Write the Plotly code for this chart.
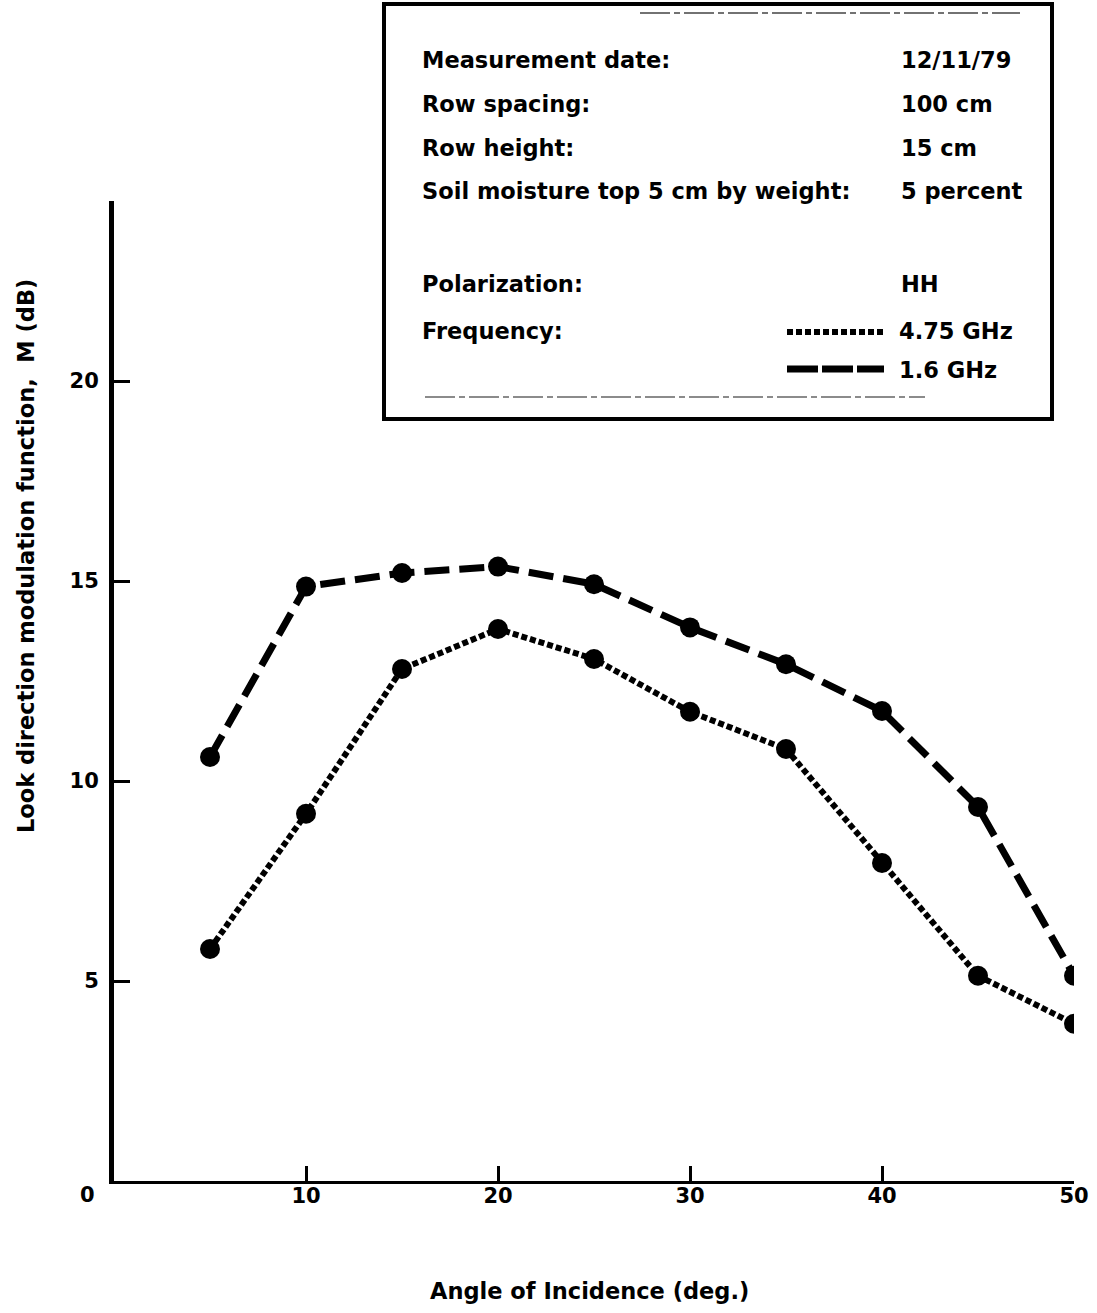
import plotly.graph_objects as go

# Angle of incidence (deg.)
angles = [5, 10, 15, 20, 25, 30, 35, 40, 45, 50]

# Look direction modulation function M (dB), HH polarization
m_475_ghz = [5.8, 9.18, 12.8, 13.8, 13.05, 11.73, 10.8, 7.95, 5.13, 3.93]
m_16_ghz = [10.6, 14.86, 15.2, 15.36, 14.92, 13.84, 12.92, 11.75, 9.35, 5.13]

x_ticks = [10, 20, 30, 40, 50]
y_ticks = [5, 10, 15, 20]

info_labels = ["Measurement date:", "Row spacing:", "Row height:",
               "Soil moisture top 5 cm by weight:", "Polarization:", "Frequency:"]
info_values = ["12/11/79", "100 cm", "15 cm", "5 percent", "HH"]
freq_labels = ["4.75 GHz", "1.6 GHz"]

W, H = 1097, 1313
ML, MR, MT, MB = 114, 23, 201, 132
PW, PH = W - ML - MR, H - MT - MB


def px(xp):
    return (xp - ML) / PW


def py(yp):
    return (H - MB - yp) / PH


FONT = "DejaVu Sans"
BLACK = "#000000"
DOT_DASH = "6px,3px"
LONG_DASH = "25px,10px"

fig = go.Figure()

fig.add_trace(go.Scatter(
    x=angles, y=m_475_ghz, mode="lines+markers", name=freq_labels[0],
    line=dict(color=BLACK, width=6, dash=DOT_DASH),
    marker=dict(color=BLACK, size=20, symbol="circle"),
))
fig.add_trace(go.Scatter(
    x=angles, y=m_16_ghz, mode="lines+markers", name=freq_labels[1],
    line=dict(color=BLACK, width=7, dash=LONG_DASH),
    marker=dict(color=BLACK, size=20, symbol="circle"),
))

tick_font = dict(family=FONT, size=21, color=BLACK, weight="bold")

fig.update_xaxes(
    range=[0, 50], tickvals=x_ticks, ticktext=[str(v) for v in x_ticks],
    ticks="inside", ticklen=15, tickwidth=3, tickcolor=BLACK,
    showline=True, linecolor=BLACK, linewidth=3, showgrid=False,
    zeroline=False, tickfont=tick_font, ticklabelstandoff=-6,
    automargin=False,
)
fig.update_yaxes(
    range=[0, 24.5], tickvals=y_ticks, ticktext=[str(v) for v in y_ticks],
    ticks="inside", ticklen=16, tickwidth=3, tickcolor=BLACK,
    showline=True, linecolor=BLACK, linewidth=5, showgrid=False,
    zeroline=False, tickfont=tick_font, ticklabelstandoff=6,
    automargin=False,
)

annotations = []
# Origin label
annotations.append(dict(x=0, y=0, xref="x", yref="y", text="0", showarrow=False,
                        xanchor="center", yanchor="middle", xshift=-27, yshift=-14,
                        font=tick_font))
# Axis titles
title_font = dict(family=FONT, size=22.5, color=BLACK, weight="bold")
annotations.append(dict(x=px(589), y=py(1291), xref="paper", yref="paper",
                        text="Angle of Incidence (deg.)", showarrow=False,
                        xanchor="center", yanchor="middle", font=title_font))
annotations.append(dict(x=px(26), y=py(556), xref="paper", yref="paper",
                        text="Look direction modulation function,  M (dB)", showarrow=False,
                        textangle=-90, xanchor="center", yanchor="middle", font=title_font))

# Information box contents
box_font = dict(family=FONT, size=22.5, color=BLACK, weight="bold")
label_rows = [60, 104, 148, 191, 284, 331]
for txt, yy in zip(info_labels, label_rows):
    annotations.append(dict(x=px(420), y=py(yy), xref="paper", yref="paper", text=txt,
                            showarrow=False, xanchor="left", yanchor="middle", font=box_font))
for txt, yy in zip(info_values, label_rows[:5]):
    annotations.append(dict(x=px(899), y=py(yy), xref="paper", yref="paper", text=txt,
                            showarrow=False, xanchor="left", yanchor="middle", font=box_font))
freq_rows = [331, 370]
for txt, yy in zip(freq_labels, freq_rows):
    annotations.append(dict(x=px(897), y=py(yy), xref="paper", yref="paper", text=txt,
                            showarrow=False, xanchor="left", yanchor="middle", font=box_font))

shapes = [
    # outer frame of the information box
    dict(type="rect", xref="paper", yref="paper",
         x0=px(384), x1=px(1052), y0=py(419), y1=py(4),
         line=dict(color=BLACK, width=4), fillcolor="rgba(255,255,255,0)"),
    # faint ruled lines inside the box
    dict(type="line", xref="paper", yref="paper",
         x0=px(640), x1=px(1020), y0=py(13), y1=py(13),
         line=dict(color="#444444", width=1.5, dash="30px,4px,6px,4px")),
    dict(type="line", xref="paper", yref="paper",
         x0=px(425), x1=px(925), y0=py(397), y1=py(397),
         line=dict(color="#666666", width=1.5, dash="30px,4px,6px,4px")),
    # legend line samples
    dict(type="line", xref="paper", yref="paper",
         x0=px(787), x1=px(885), y0=py(332), y1=py(332),
         line=dict(color=BLACK, width=6, dash=DOT_DASH)),
    dict(type="line", xref="paper", yref="paper",
         x0=px(787), x1=px(884), y0=py(369), y1=py(369),
         line=dict(color=BLACK, width=7, dash="31px,4px")),
]

fig.update_layout(
    width=W, height=H,
    margin=dict(l=ML, r=MR, t=MT, b=MB, autoexpand=False),
    paper_bgcolor="white", plot_bgcolor="white",
    showlegend=False,
    annotations=annotations,
    shapes=shapes,
)

fig.write_html("out.html")
